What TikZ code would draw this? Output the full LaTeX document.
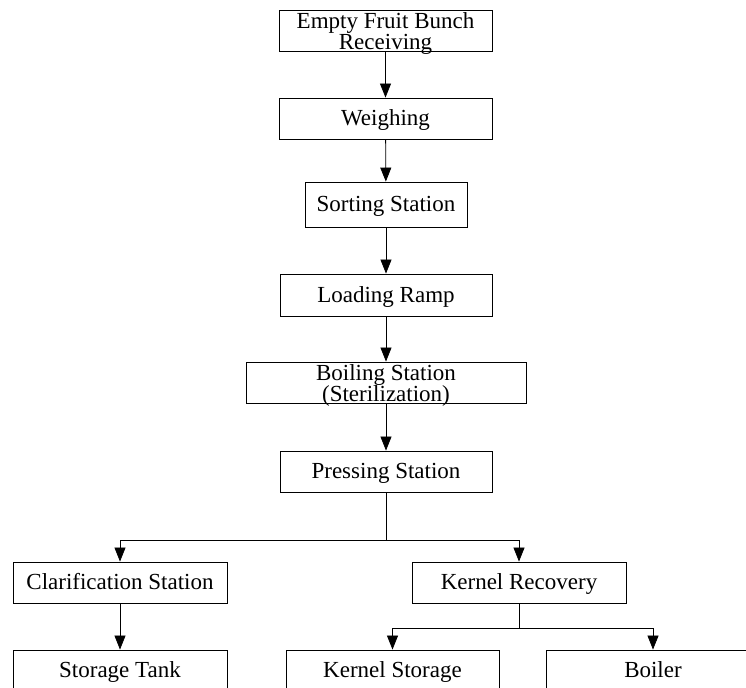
\documentclass[tikz,border=0pt]{standalone}
\usepackage{fontspec}
\setmainfont{Liberation Serif}
\usetikzlibrary{arrows.meta}

\begin{document}
\begin{tikzpicture}[x=1bp,y=1bp,
		station/.style={draw, line width=0.8bp, rectangle, inner sep=0pt,
			minimum width=213bp, minimum height=41bp, align=center,
			text height=18bp, text depth=3bp,
			font=\fontsize{23bp}{21.5bp}\selectfont},
		twoline/.style={text height=40bp, text depth=1bp},
		flow/.style={line width=0.8bp, -{Triangle[length=14bp,width=11bp]}}]
		\useasboundingbox (0,0) rectangle (746,688);
		\clip (0,0) rectangle (746,688);

		% Main line.
		\node[station, twoline] (efb) at (385.5,657.5) {Empty Fruit Bunch\\Receiving};
		\node[station] (weigh) at (385.5,569.5) {Weighing};
		\node[station, minimum width=162bp, minimum height=45bp] (sort) at (386,483.5) {Sorting Station};
		\node[station, minimum width=212bp, minimum height=42bp] (load) at (386,393) {Loading Ramp};
		\node[station, twoline, minimum width=280bp] (boil) at (386,305.5) {Boiling Station\\(Sterilization)};
		\node[station, minimum width=212bp] (press) at (386,216.5) {Pressing Station};

		\draw[flow] (efb) -- (weigh);
		\draw[flow] (weigh) -- (sort);
		\draw[flow] (sort) -- (load);
		\draw[flow] (load) -- (boil);
		\draw[flow] (boil) -- (press);

		% Branches.
		\node[station, minimum width=214bp] (clar) at (120,105.5) {Clarification Station};
		\node[station, minimum width=214bp] (kern) at (519,105.5) {Kernel Recovery};
		\node[station, minimum width=214bp] (tank) at (120,17.5) {Storage Tank};
		\node[station, minimum width=213bp] (kstore) at (392.5,17.5) {Kernel Storage};
		\node[station, minimum width=214bp] (boiler) at (653,17.5) {Boiler};

		\coordinate (split1) at (386,148);
		\coordinate (split2) at (519,60);

		\draw[line width=0.8bp] (press) -- (split1);
		\draw[flow] (split1) -| (clar);
		\draw[flow] (split1) -| (kern);
		\draw[flow] (clar) -- (tank);
		\draw[line width=0.8bp] (kern) -- (split2);
		\draw[flow] (split2) -| (kstore);
		\draw[flow] (split2) -| (boiler);
	\end{tikzpicture}
\end{document}
